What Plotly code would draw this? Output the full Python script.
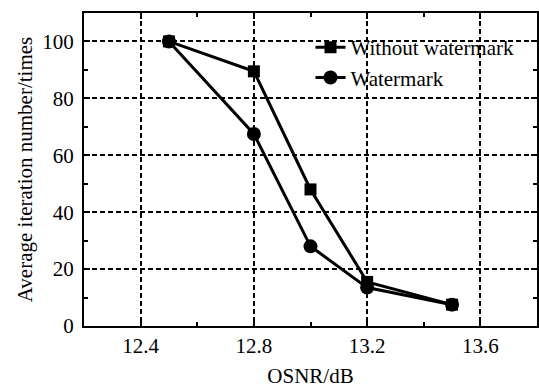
import plotly.graph_objects as go

osnr = [12.5, 12.8, 13.0, 13.2, 13.5]
without_wm = [100, 89.5, 48, 15.5, 7.5]
with_wm = [100, 67.5, 28, 13.5, 7.5]
series_names = ["Without watermark", "Watermark"]

FONT = "Liberation Serif"
FS = 21

fig = go.Figure()
fig.add_trace(go.Scatter(x=osnr, y=without_wm, name=series_names[0], mode="lines+markers",
                         line=dict(color="black", width=3),
                         marker=dict(symbol="square", size=12, color="black")))
fig.add_trace(go.Scatter(x=osnr, y=with_wm, name=series_names[1], mode="lines+markers",
                         line=dict(color="black", width=3),
                         marker=dict(symbol="circle", size=14, color="black")))

axis_common = dict(showline=True, linecolor="black", linewidth=2, mirror="ticks",
                   ticks="inside", ticklen=6, tickwidth=1.5, tickcolor="black",
                   showgrid=True, gridcolor="black", gridwidth=1.5, griddash="5px,3px",
                   zeroline=False,
                   tickfont=dict(family=FONT, size=FS, color="black"))

fig.update_xaxes(range=[12.2, 13.8], tick0=12.4, dtick=0.4, tickformat=".1f",
                 minor=dict(ticks="inside", ticklen=4, dtick=0.2, tick0=12.4, tickcolor="black", showgrid=False),
                 title=dict(text="OSNR/dB", font=dict(family=FONT, size=FS, color="black"), standoff=12),
                 **axis_common)
fig.update_yaxes(range=[0, 110], tick0=0, dtick=20,
                 minor=dict(ticks="inside", ticklen=4, dtick=10, tick0=0, tickcolor="black", showgrid=False),
                 title=dict(text="Average iteration number/times", font=dict(family=FONT, size=FS, color="black"), standoff=4),
                 ticklabelstandoff=4,
                 **axis_common)

fig.update_layout(width=539, height=388,
                  margin=dict(l=84, r=0, t=13, b=62),
                  paper_bgcolor="white", plot_bgcolor="white",
                  font=dict(family=FONT, size=FS, color="black"),
                  showlegend=True,
                  legend=dict(x=0.50, y=0.955, xanchor="left", yanchor="top",
                              bgcolor="rgba(0,0,0,0)", borderwidth=0,
                              font=dict(family=FONT, size=FS, color="black"),
                              tracegroupgap=0))

fig.write_html("out.html")
